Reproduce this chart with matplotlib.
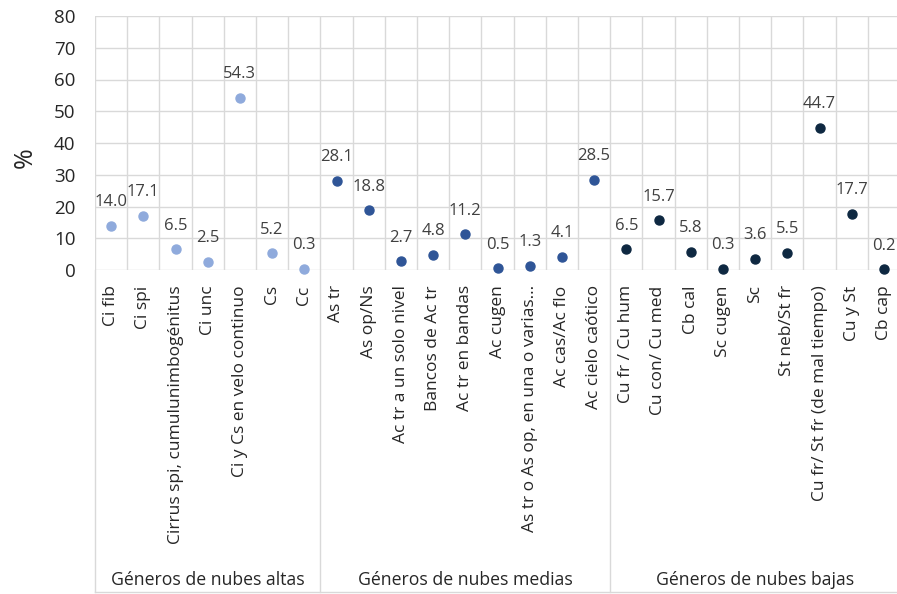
import matplotlib.pyplot as plt
from matplotlib import transforms

plt.rcParams['font.family'] = ['Open Sans', 'DejaVu Sans']

# cloud genera, grouped by level
altas = ['Ci fib', 'Ci spi', 'Cirrus spi, cumulunimbogénitus', 'Ci unc',
         'Ci y Cs en velo continuo', 'Cs', 'Cc']
altas_vals = [14.0, 17.1, 6.5, 2.5, 54.3, 5.2, 0.3]

medias = ['As tr', 'As op/Ns', 'Ac tr a un solo nivel', 'Bancos de Ac tr',
          'Ac tr en bandas', 'Ac cugen', 'As tr o As op, en una o varias…',
          'Ac cas/Ac flo', 'Ac cielo caótico']
medias_vals = [28.1, 18.8, 2.7, 4.8, 11.2, 0.5, 1.3, 4.1, 28.5]

bajas = ['Cu fr / Cu hum', 'Cu con/ Cu med', 'Cb cal', 'Sc cugen', 'Sc',
         'St neb/St fr', 'Cu fr/ St fr (de mal tiempo)', 'Cu y St', 'Cb cap']
bajas_vals = [6.5, 15.7, 5.8, 0.3, 3.6, 5.5, 44.7, 17.7, 0.2]

group_names = ['Géneros de nubes altas', 'Géneros de nubes medias', 'Géneros de nubes bajas']
groups = [(altas, altas_vals, '#8faadc'),
          (medias, medias_vals, '#2f5597'),
          (bajas, bajas_vals, '#0e2841')]

fig = plt.figure(figsize=(8.97, 5.94), dpi=100)
ax = fig.add_axes([95 / 897, 324 / 594, 805 / 897, 254 / 594])

grid_c = '#d9d9d9'
labels = []
start = 0
bounds = [0]
for (cats, vals, col), gname in zip(groups, group_names):
    xs = [start + i + 0.5 for i in range(len(cats))]
    ax.plot(xs, vals, 'o', color=col, markersize=6.5, clip_on=False, zorder=3)
    for x, v in zip(xs, vals):
        ax.annotate(f'{v:.1f}', (x, v), xytext=(0, 17), textcoords='offset points',
                    ha='center', va='center', fontsize=12, color='#404040')
    labels += cats
    mid = start + len(cats) / 2
    start += len(cats)
    bounds.append(start)
    # group label under the category labels
    trans = transforms.blended_transform_factory(ax.transData, fig.transFigure)
    ax.text(mid, 14 / 594, gname, transform=trans, ha='center', va='center',
            fontsize=12.7, color='#262626')

ax.set_xlim(0, len(labels))
ax.set_ylim(0, 80)
ax.set_yticks(range(0, 81, 10))
ax.set_xticks([i + 0.5 for i in range(len(labels))])
ax.set_xticklabels(labels, rotation=90, fontsize=12.5, color='#262626')
ax.tick_params(axis='x', length=0, pad=11)
ax.tick_params(axis='y', length=0, pad=14, labelsize=13.5, labelcolor='#262626')

# gridlines: horizontal every 10, vertical between categories
for y in range(0, 81, 10):
    ax.axhline(y, color=grid_c, lw=1, zorder=1)
for x in range(0, len(labels) + 1):
    ax.axvline(x, color=grid_c, lw=1, zorder=1)
for s in ax.spines.values():
    s.set_visible(False)

# group separators in the label area
trans = transforms.blended_transform_factory(ax.transData, fig.transFigure)
for b in bounds[:-1]:
    ax.plot([b, b], [2 / 594, 324 / 594], color=grid_c, lw=1, transform=trans, clip_on=False)
ax.plot([0, len(labels)], [2 / 594, 2 / 594], color=grid_c, lw=1, transform=trans, clip_on=False)

fig.text(25 / 897, 1 - 158 / 594, '%', rotation=90, ha='center', va='center',
         fontsize=18, color='#262626')

fig.savefig('out.png', dpi=100)
